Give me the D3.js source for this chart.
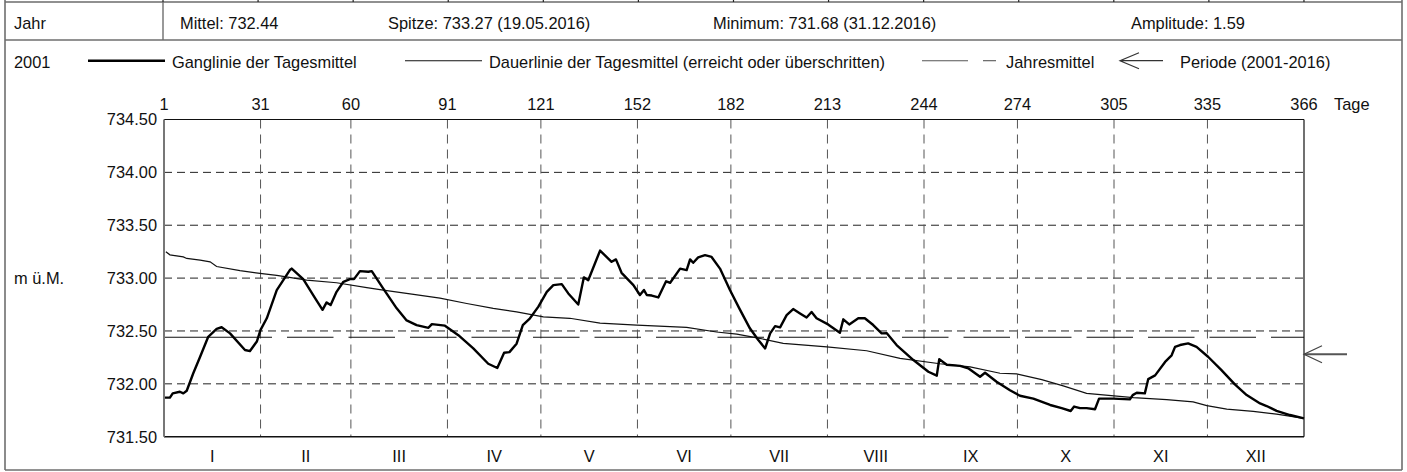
<!DOCTYPE html>
<html><head><meta charset="utf-8">
<script src="https://cdn.jsdelivr.net/npm/d3@7"></script>
<style>
html,body{margin:0;padding:0;background:#fff;}
svg text{font-family:"Liberation Sans",Arial,sans-serif;font-size:16.4px;fill:#111;}
</style></head>
<body><svg id="c" width="1407" height="472"></svg>
<script>
// ---- data ----
const gangDays = [0.2,1.9,2.8,5.1,6.2,7.3,9.4,11.6,14.2,16.9,18.5,21.2,26,27.6,29.8,31,33,36.2,40.4,41,44.7,48.5,50.9,52.2,53.5,55.4,57.6,59.7,61,62.9,65.6,66.7,70.4,74.7,77.9,81.1,84.9,86,90.2,94.5,99.3,104.1,107,109.2,110.9,113.2,115.2,117.5,120.2,122.9,125,127.7,129.8,133,134.8,136.2,140,143.7,145.1,146.9,150.7,152.8,154.1,155,156.6,158.7,161.2,162.5,165.7,167.8,168.9,169.9,171.5,173.7,175.8,178.5,181.7,184.7,188.1,190.8,193,194.6,196.2,197.8,199.9,202,204.2,206.3,207.9,209.5,213.2,217,218.1,220,222.9,225,227.7,230.4,232,235.2,240.6,245.4,248.1,248.9,251.3,255.6,258.2,262,263.6,267.3,271.6,274.8,279.1,284.5,288.2,291.1,292.2,294.1,296.2,298.9,300.2,304.8,310.1,311,312.3,314.9,316,318.2,321.4,323.5,324.6,326.2,328.8,331.5,335.2,339.5,343.8,347.6,351.9,354,357.2,361.5,366];
const gangValues = [731.87,731.87,731.91,731.925,731.91,731.935,732.10,732.256,732.445,732.52,732.535,732.477,732.32,732.31,732.40,732.51,732.62,732.887,733.076,733.09,732.99,732.81,732.70,732.77,732.745,732.87,732.965,732.99,732.99,733.066,733.06,733.066,732.90,732.714,732.60,732.556,732.53,732.565,732.55,732.46,732.335,732.19,732.15,732.294,732.30,732.38,732.556,732.62,732.73,732.87,732.934,732.943,732.855,732.75,733.007,732.98,733.26,733.154,733.177,733.05,732.934,732.84,732.887,732.84,732.835,732.817,732.97,732.956,733.09,733.076,733.177,733.145,733.196,733.217,733.2,733.09,732.887,732.714,732.525,732.414,732.335,732.477,732.546,732.534,732.65,732.707,732.666,732.628,732.68,732.62,732.562,732.483,732.61,732.562,732.62,732.62,732.556,732.477,732.48,732.367,732.225,732.114,732.077,732.234,732.18,732.17,732.147,732.067,732.105,732.02,731.94,731.887,731.86,731.80,731.77,731.743,731.785,731.77,731.77,731.76,731.86,731.86,731.853,731.893,731.915,731.91,732.045,732.08,732.207,732.27,732.35,732.367,732.383,732.35,732.256,732.13,731.995,731.894,731.815,731.79,731.745,731.705,731.673];

const dauerDays = [0.6,1.9,6.2,7.3,11.6,14.8,16.9,24.4,30.8,36.2,45.8,55.4,65.1,70.4,79,88.6,97.2,105.7,113.2,121.8,130.3,140,151.8,167.8,177.4,183.9,191.3,198.8,212.8,225.6,236.3,249.1,258.8,268.4,273.7,281.8,288.7,296.2,311.2,321.9,330.4,334.8,341.2,349.7,357.2,366];
const dauerValues = [733.25,733.22,733.20,733.186,733.17,733.154,733.11,733.07,733.044,733.025,732.98,732.956,732.91,732.887,732.85,732.81,732.76,732.714,732.68,732.634,732.62,732.575,732.556,732.534,732.49,732.47,732.43,732.383,732.35,732.313,732.24,732.19,732.16,732.10,732.094,732.04,731.98,731.91,731.87,731.85,731.83,731.794,731.76,731.74,731.714,731.673];

const jahresmittel = 732.44;
const periodeMittel = 732.28;

const dayTicks = [0,31,60,91,121,152,182,213,244,274,305,335,366];
const dayTickLabels = ["1","31","60","91","121","152","182","213","244","274","305","335","366"];
const monthLabels = ["I","II","III","IV","V","VI","VII","VIII","IX","X","XI","XII"];
const yTicks = [731.5,732.0,732.5,733.0,733.5,734.0,734.5];
const yGrid = [732.0,732.5,733.0,733.5,734.0];

const statTexts = ["Mittel: 732.44","Spitze: 733.27 (19.05.2016)","Minimum: 731.68 (31.12.2016)","Amplitude: 1.59"];
const statX = [180,388,713,1131];

// ---- drawing ----
const svg = d3.select("#c");
const L=164, R=1304, T=119.5, B=436.7;
const x = d3.scaleLinear().domain([0,366]).range([L,R]);
const y = d3.scaleLinear().domain([731.5,734.5]).range([B,T]);

svg.append("rect").attr("width",1407).attr("height",472).attr("fill","#fff");

// outer table frame
const border="#6e6e6e";
svg.append("line").attr("x1",5).attr("x2",1402).attr("y1",2).attr("y2",2).attr("stroke","#222").attr("stroke-width",1.2);
svg.append("line").attr("x1",5).attr("x2",5).attr("y1",0).attr("y2",470).attr("stroke",border).attr("stroke-width",1.6);
svg.append("line").attr("x1",1402).attr("x2",1402).attr("y1",0).attr("y2",470).attr("stroke",border).attr("stroke-width",1.6);
svg.append("line").attr("x1",5).attr("x2",1402).attr("y1",470).attr("y2",470).attr("stroke",border).attr("stroke-width",1.6);
svg.append("line").attr("x1",5).attr("x2",1402).attr("y1",40).attr("y2",40).attr("stroke",border).attr("stroke-width",1.4);
svg.append("line").attr("x1",163).attr("x2",163).attr("y1",2).attr("y2",40).attr("stroke",border).attr("stroke-width",1.4);
// remnants of previous row cell dividers
svg.selectAll(".topdiv").data(d3.range(13)).enter().append("line")
  .attr("x1",i=>163+i*95.08).attr("x2",i=>163+i*95.08).attr("y1",0).attr("y2",2)
  .attr("stroke","#222").attr("stroke-width",1.2);

// header texts
svg.append("text").attr("x",14).attr("y",29).text("Jahr");
svg.selectAll(".stat").data(statTexts).enter().append("text")
  .attr("x",(d,i)=>statX[i]).attr("y",28.5).text(d=>d);

// legend row
const ly=60.7;
svg.append("text").attr("x",14).attr("y",68).text("2001");
svg.append("line").attr("x1",88).attr("x2",165).attr("y1",ly).attr("y2",ly).attr("stroke","#000").attr("stroke-width",2.4);
svg.append("text").attr("x",172).attr("y",67.5).text("Ganglinie der Tagesmittel");
svg.append("line").attr("x1",405).attr("x2",482).attr("y1",ly).attr("y2",ly).attr("stroke","#111").attr("stroke-width",1.1);
svg.append("text").attr("x",489).attr("y",67.5).text("Dauerlinie der Tagesmittel (erreicht oder überschritten)");
svg.append("line").attr("x1",922).attr("x2",968).attr("y1",ly).attr("y2",ly).attr("stroke","#555").attr("stroke-width",1.1);
svg.append("line").attr("x1",983).attr("x2",996).attr("y1",ly).attr("y2",ly).attr("stroke","#555").attr("stroke-width",1.1);
svg.append("text").attr("x",1006).attr("y",67.5).text("Jahresmittel");
svg.append("path").attr("d",`M1163,${ly}H1120M1139,${ly-8}L1120,${ly}L1139,${ly+8}`)
  .attr("fill","none").attr("stroke","#333").attr("stroke-width",1.2);
svg.append("text").attr("x",1180).attr("y",67.5).text("Periode (2001-2016)");

// grid
svg.selectAll(".hg").data(yGrid).enter().append("line")
  .attr("x1",L).attr("x2",R).attr("y1",d=>y(d)).attr("y2",d=>y(d))
  .attr("stroke","#222").attr("stroke-width",1).attr("stroke-dasharray","8,5");
svg.selectAll(".vg").data(dayTicks.slice(1,-1)).enter().append("line")
  .attr("x1",d=>x(d)).attr("x2",d=>x(d)).attr("y1",T).attr("y2",B)
  .attr("stroke","#555").attr("stroke-width",1).attr("stroke-dasharray","9,6");

// Jahresmittel line
const dash=[108,15]; for(let i=0;i<22;i++){dash.push(46.5,15);} 
svg.append("line").attr("x1",L).attr("x2",R).attr("y1",y(jahresmittel)).attr("y2",y(jahresmittel))
  .attr("stroke","#111").attr("stroke-width",1.1).attr("stroke-dasharray",dash.join(","));

// Dauerlinie
const line = d3.line().x(d=>x(d[0])).y(d=>y(d[1]));
svg.append("path").datum(dauerDays.map((d,i)=>[d,dauerValues[i]]))
  .attr("d",line).attr("fill","none").attr("stroke","#111").attr("stroke-width",1.2);
// Ganglinie
svg.append("path").datum(gangDays.map((d,i)=>[d,gangValues[i]]))
  .attr("d",line).attr("fill","none").attr("stroke","#000").attr("stroke-width",2.4).attr("stroke-linejoin","round");

// plot frame
svg.append("line").attr("x1",L).attr("x2",R).attr("y1",T).attr("y2",T).attr("stroke","#111").attr("stroke-width",1.2);
svg.append("line").attr("x1",R).attr("x2",R).attr("y1",T).attr("y2",B).attr("stroke","#111").attr("stroke-width",1.2);
svg.append("line").attr("x1",L).attr("x2",R).attr("y1",B).attr("y2",B).attr("stroke","#111").attr("stroke-width",1.5);
svg.append("line").attr("x1",L).attr("x2",L).attr("y1",T).attr("y2",B).attr("stroke","#777").attr("stroke-width",2);

// y labels
svg.selectAll(".yl").data(yTicks).enter().append("text")
  .attr("x",157).attr("y",d=>y(d)).attr("dy","0.36em").attr("text-anchor","end").text(d=>d.toFixed(2));
svg.append("text").attr("x",14).attr("y",284).text("m ü.M.");
// top day labels
svg.selectAll(".xl").data(dayTicks).enter().append("text")
  .attr("x",d=>x(d)).attr("y",110).attr("text-anchor","middle").text((d,i)=>dayTickLabels[i]);
svg.append("text").attr("x",1334).attr("y",110).text("Tage");
// month labels
svg.selectAll(".ml").data(monthLabels).enter().append("text")
  .attr("x",(d,i)=>(x(dayTicks[i])+x(dayTicks[i+1]))/2).attr("y",462).attr("text-anchor","middle").text(d=>d);

// Periode arrow
const py=y(periodeMittel);
svg.append("line").attr("x1",R).attr("x2",R+43).attr("y1",py).attr("y2",py).attr("stroke","#555").attr("stroke-width",2);
svg.append("path").attr("d",`M${R+18},${py-8.5}L${R},${py}L${R+18},${py+8.5}`)
  .attr("fill","none").attr("stroke","#444").attr("stroke-width",1.2);
</script></body></html>
